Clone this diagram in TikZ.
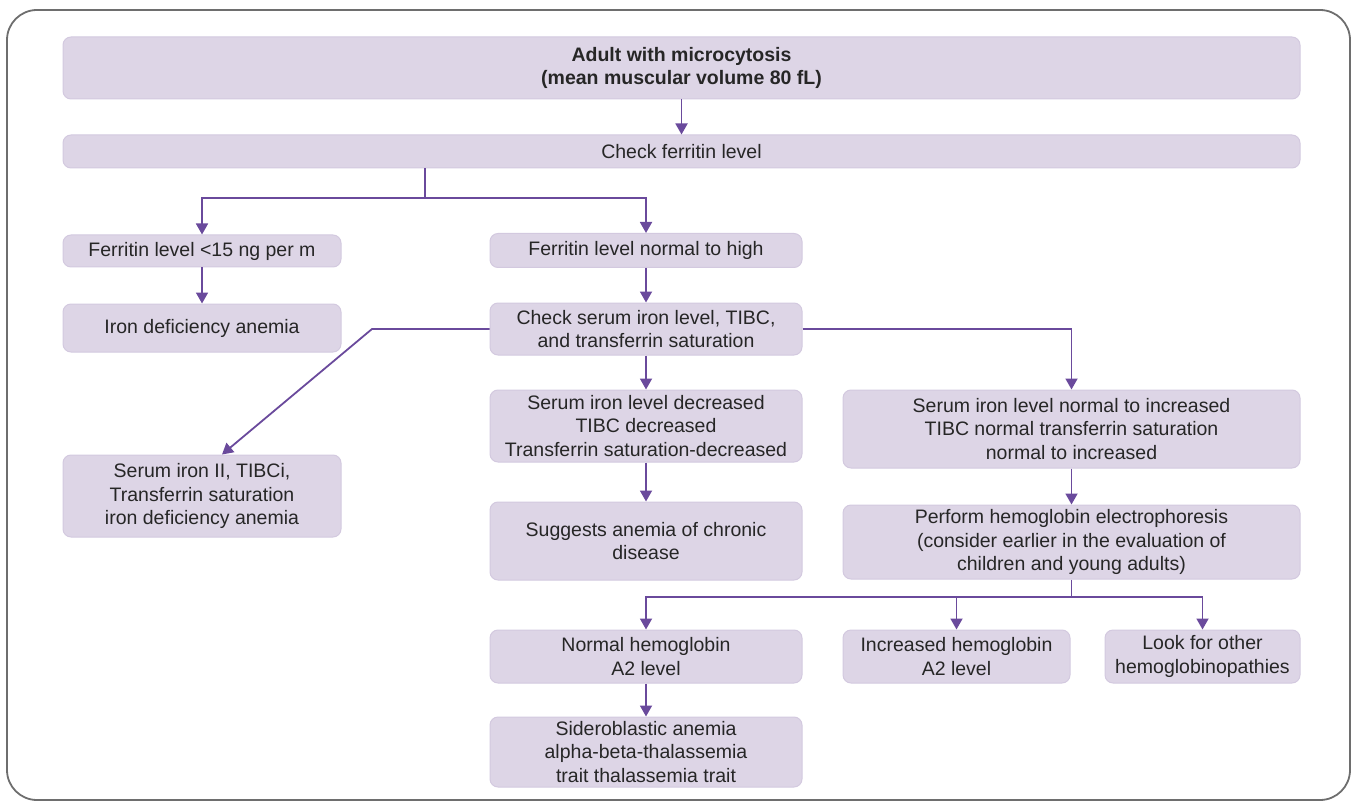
\documentclass[tikz,border=0pt]{standalone}
\usepackage{fontspec}
\setmainfont{Liberation Sans}
\usetikzlibrary{arrows.meta,calc}
\definecolor{boxfill}{HTML}{DDD5E6}
\definecolor{boxrim}{HTML}{D3C9DF}
\definecolor{flow}{HTML}{6A4A9C}
\definecolor{frame}{HTML}{6E6E6E}
\definecolor{ink}{HTML}{262626}
\begin{document}
\begin{tikzpicture}[x=1pt,y=-1pt,
  stepbox/.style={rectangle, rounded corners=8pt, fill=boxfill, draw=boxrim, line width=1pt,
    inner sep=0pt, align=center, text=ink,
    font=\fontsize{19.5}{23.5}\selectfont},
  link/.style={draw=flow, line width=1.8pt},
  arr/.style={link, -{Triangle[width=12pt,length=11pt]}}]
\useasboundingbox (0,0) rectangle (1351,802);
% outer frame
\draw[frame, line width=1.8pt, rounded corners=30pt] (7,10) rectangle (1350,800);

% boxes
\node[stepbox, minimum width=1237pt, minimum height=62pt] (top) at (681.5,68)
  {\textbf{Adult with microcytosis}\\\textbf{(mean muscular volume 80 fL)}};
\node[stepbox, minimum width=1237pt, minimum height=33pt] (chk) at (681.5,151.5) {Check ferritin level};
\node[stepbox, minimum width=278pt, minimum height=32pt] (f15) at (202,251) {Ferritin level <15 ng per m};
\node[stepbox, minimum width=312pt, minimum height=34pt] (fnorm) at (646,250.5) {Ferritin level normal to high};
\node[stepbox, minimum width=278pt, minimum height=48pt] (idef) at (202,328) {Iron deficiency anemia};
\node[stepbox, minimum width=312pt, minimum height=52pt] (cs) at (646,329)
  {Check serum iron level, TIBC,\\and transferrin saturation};
\node[stepbox, minimum width=312pt, minimum height=72pt] (sdec) at (646,426)
  {Serum iron level decreased\\TIBC decreased\\Transferrin saturation-decreased};
\node[stepbox, minimum width=457pt, minimum height=78pt] (snorm) at (1071.5,429)
  {Serum iron level normal to increased\\TIBC normal transferrin saturation\\normal to increased};
\node[stepbox, minimum width=278pt, minimum height=82pt] (sii) at (202,496)
  {Serum iron II, TIBCi,\\Transferrin saturation\\iron deficiency anemia};
\node[stepbox, minimum width=312pt, minimum height=78pt] (sug) at (646,541)
  {Suggests anemia of chronic\\disease};
\node[stepbox, minimum width=457pt, minimum height=74pt] (perf) at (1071.5,542)
  {Perform hemoglobin electrophoresis\\(consider earlier in the evaluation of\\children and young adults)};
\node[stepbox, minimum width=312pt, minimum height=53pt] (nhb) at (646,656.5)
  {Normal hemoglobin\\A2 level};
\node[stepbox, minimum width=227pt, minimum height=53pt] (inc) at (956.5,656.5)
  {Increased hemoglobin\\A2 level};
\node[stepbox, minimum width=195pt, minimum height=53pt] (look) at (1202.5,656.5)
  {Look for other\\hemoglobinopathies};
\node[stepbox, minimum width=312pt, minimum height=70pt] (sid) at (646,752)
  {Sideroblastic anemia\\alpha-beta-thalassemia\\trait thalassemia trait};

% connectors
\draw[arr] (top.south) -- (chk.north);
\coordinate (split) at (425,198);
\draw[link] (split |- chk.south) -- (split);
\draw[arr] (split) -| (f15.north);
\draw[arr] (split) -| (fnorm.north);
\draw[arr] (f15.south) -- (idef.north);
\draw[arr] (fnorm.south) -- (cs.north);
\draw[arr] (cs.south) -- (sdec.north);
\draw[arr] (cs.east) -| (snorm.north);
\coordinate (bend) at (372,329);
\draw[arr] (cs.west) -- (bend) -- ($(sii.north)+(20,0)$);
\draw[arr] (sdec.south) -- (sug.north);
\draw[arr] (snorm.south) -- (perf.north);
\coordinate (split2) at (1071.5,597);
\draw[link] (perf.south) -- (split2);
\draw[arr] (split2) -| (nhb.north);
\draw[arr] (split2) -| (look.north);
\draw[arr] (inc.north |- split2) -- (inc.north);
\draw[arr] (nhb.south) -- (sid.north);
\end{tikzpicture}
\end{document}
